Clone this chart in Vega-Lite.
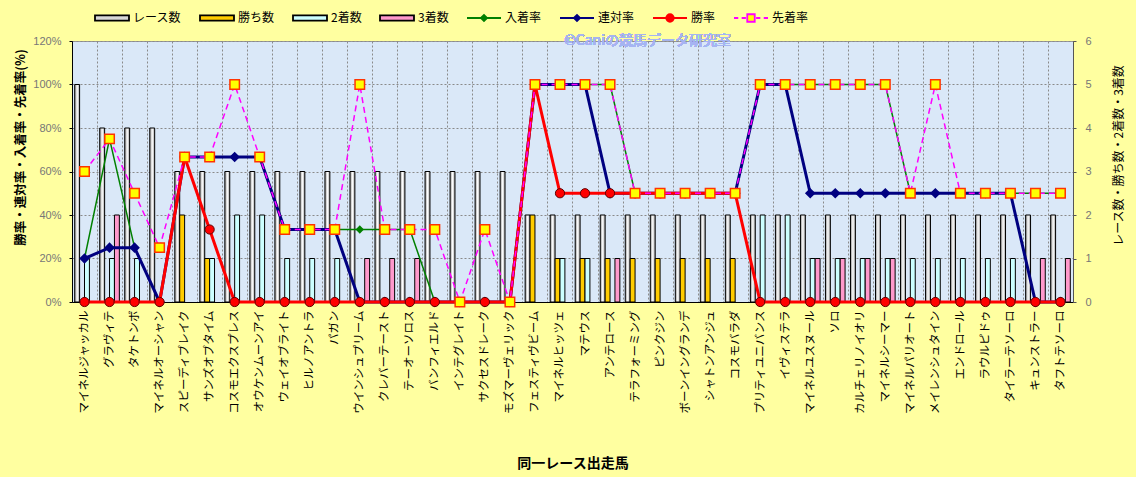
{
  "$schema": "https://vega.github.io/schema/vega-lite/v6.json",
  "width": 1001,
  "height": 261,
  "autosize": {"type": "none"},
  "padding": {"left": 72, "top": 41, "right": 63, "bottom": 175},
  "background": "#FFFFA0",
  "config": {
    "font": "Noto Sans CJK JP",
    "view": {"fill": "#DAE8F8", "stroke": "#999999"},
    "legend": {
      "orient": "none",
      "legendX": 22,
      "legendY": -41,
      "direction": "horizontal",
      "columns": 8,
      "gridAlign": "none",
      "padding": 0,
      "columnPadding": 14,
      "labelOffset": 3,
      "labelFontSize": 12,
      "labelColor": "#000000",
      "labelLimit": 100,
      "symbolSize": 1156,
      "symbolOpacity": 1,
      "symbolStrokeWidth": 1.8
    }
  },
  "data": {
    "values": [
      {"h": "マイネルジャッカル", "レース数": 5, "勝ち数": 0, "2着数": 1, "3着数": 0, "入着率": 0.2, "連対率": 0.2, "勝率": 0, "先着率": 0.6},
      {"h": "グラヴィテ", "レース数": 4, "勝ち数": 0, "2着数": 1, "3着数": 2, "入着率": 0.75, "連対率": 0.25, "勝率": 0, "先着率": 0.75},
      {"h": "タケトンボ", "レース数": 4, "勝ち数": 0, "2着数": 1, "3着数": 0, "入着率": 0.25, "連対率": 0.25, "勝率": 0, "先着率": 0.5},
      {"h": "マイネルオーシャン", "レース数": 4, "勝ち数": 0, "2着数": 0, "3着数": 0, "入着率": 0, "連対率": 0, "勝率": 0, "先着率": 0.25},
      {"h": "スピーディブレイク", "レース数": 3, "勝ち数": 2, "2着数": 0, "3着数": 0, "入着率": 0.6667, "連対率": 0.6667, "勝率": 0.6667, "先着率": 0.6667},
      {"h": "サンズオブタイム", "レース数": 3, "勝ち数": 1, "2着数": 1, "3着数": 0, "入着率": 0.6667, "連対率": 0.6667, "勝率": 0.3333, "先着率": 0.6667},
      {"h": "コスモエクスプレス", "レース数": 3, "勝ち数": 0, "2着数": 2, "3着数": 0, "入着率": 0.6667, "連対率": 0.6667, "勝率": 0, "先着率": 1},
      {"h": "オウケンムーンアイ", "レース数": 3, "勝ち数": 0, "2着数": 2, "3着数": 0, "入着率": 0.6667, "連対率": 0.6667, "勝率": 0, "先着率": 0.6667},
      {"h": "ウェイオブライト", "レース数": 3, "勝ち数": 0, "2着数": 1, "3着数": 0, "入着率": 0.3333, "連対率": 0.3333, "勝率": 0, "先着率": 0.3333},
      {"h": "ヒルノアントラ", "レース数": 3, "勝ち数": 0, "2着数": 1, "3着数": 0, "入着率": 0.3333, "連対率": 0.3333, "勝率": 0, "先着率": 0.3333},
      {"h": "パガン", "レース数": 3, "勝ち数": 0, "2着数": 1, "3着数": 0, "入着率": 0.3333, "連対率": 0.3333, "勝率": 0, "先着率": 0.3333},
      {"h": "ウインシュプリーム", "レース数": 3, "勝ち数": 0, "2着数": 0, "3着数": 1, "入着率": 0.3333, "連対率": 0, "勝率": 0, "先着率": 1},
      {"h": "クレバーテースト", "レース数": 3, "勝ち数": 0, "2着数": 0, "3着数": 1, "入着率": 0.3333, "連対率": 0, "勝率": 0, "先着率": 0.3333},
      {"h": "テーオーソロス", "レース数": 3, "勝ち数": 0, "2着数": 0, "3着数": 1, "入着率": 0.3333, "連対率": 0, "勝率": 0, "先着率": 0.3333},
      {"h": "バンフィエルド", "レース数": 3, "勝ち数": 0, "2着数": 0, "3着数": 0, "入着率": 0, "連対率": 0, "勝率": 0, "先着率": 0.3333},
      {"h": "インテグレイト", "レース数": 3, "勝ち数": 0, "2着数": 0, "3着数": 0, "入着率": 0, "連対率": 0, "勝率": 0, "先着率": 0},
      {"h": "サクセスドレーク", "レース数": 3, "勝ち数": 0, "2着数": 0, "3着数": 0, "入着率": 0, "連対率": 0, "勝率": 0, "先着率": 0.3333},
      {"h": "モズマーヴェリック", "レース数": 3, "勝ち数": 0, "2着数": 0, "3着数": 0, "入着率": 0, "連対率": 0, "勝率": 0, "先着率": 0},
      {"h": "フェスティヴビーム", "レース数": 2, "勝ち数": 2, "2着数": 0, "3着数": 0, "入着率": 1, "連対率": 1, "勝率": 1, "先着率": 1},
      {"h": "マイネルヒッツェ", "レース数": 2, "勝ち数": 1, "2着数": 1, "3着数": 0, "入着率": 1, "連対率": 1, "勝率": 0.5, "先着率": 1},
      {"h": "マテウス", "レース数": 2, "勝ち数": 1, "2着数": 1, "3着数": 0, "入着率": 1, "連対率": 1, "勝率": 0.5, "先着率": 1},
      {"h": "アンテロース", "レース数": 2, "勝ち数": 1, "2着数": 0, "3着数": 1, "入着率": 1, "連対率": 0.5, "勝率": 0.5, "先着率": 1},
      {"h": "テラフォーミング", "レース数": 2, "勝ち数": 1, "2着数": 0, "3着数": 0, "入着率": 0.5, "連対率": 0.5, "勝率": 0.5, "先着率": 0.5},
      {"h": "ピンクジン", "レース数": 2, "勝ち数": 1, "2着数": 0, "3着数": 0, "入着率": 0.5, "連対率": 0.5, "勝率": 0.5, "先着率": 0.5},
      {"h": "ボーンイングランデ", "レース数": 2, "勝ち数": 1, "2着数": 0, "3着数": 0, "入着率": 0.5, "連対率": 0.5, "勝率": 0.5, "先着率": 0.5},
      {"h": "シャトンアンジュ", "レース数": 2, "勝ち数": 1, "2着数": 0, "3着数": 0, "入着率": 0.5, "連対率": 0.5, "勝率": 0.5, "先着率": 0.5},
      {"h": "コスモバラダ", "レース数": 2, "勝ち数": 1, "2着数": 0, "3着数": 0, "入着率": 0.5, "連対率": 0.5, "勝率": 0.5, "先着率": 0.5},
      {"h": "プリティユニバンス", "レース数": 2, "勝ち数": 0, "2着数": 2, "3着数": 0, "入着率": 1, "連対率": 1, "勝率": 0, "先着率": 1},
      {"h": "イヴィステラ", "レース数": 2, "勝ち数": 0, "2着数": 2, "3着数": 0, "入着率": 1, "連対率": 1, "勝率": 0, "先着率": 1},
      {"h": "マイネルユスヌール", "レース数": 2, "勝ち数": 0, "2着数": 1, "3着数": 1, "入着率": 1, "連対率": 0.5, "勝率": 0, "先着率": 1},
      {"h": "ソロ", "レース数": 2, "勝ち数": 0, "2着数": 1, "3着数": 1, "入着率": 1, "連対率": 0.5, "勝率": 0, "先着率": 1},
      {"h": "カルチェリノイオリ", "レース数": 2, "勝ち数": 0, "2着数": 1, "3着数": 1, "入着率": 1, "連対率": 0.5, "勝率": 0, "先着率": 1},
      {"h": "マイネルシーマー", "レース数": 2, "勝ち数": 0, "2着数": 1, "3着数": 1, "入着率": 1, "連対率": 0.5, "勝率": 0, "先着率": 1},
      {"h": "マイネルパリオート", "レース数": 2, "勝ち数": 0, "2着数": 1, "3着数": 0, "入着率": 0.5, "連対率": 0.5, "勝率": 0, "先着率": 0.5},
      {"h": "メイレンシュタイン", "レース数": 2, "勝ち数": 0, "2着数": 1, "3着数": 0, "入着率": 0.5, "連対率": 0.5, "勝率": 0, "先着率": 1},
      {"h": "エンドロール", "レース数": 2, "勝ち数": 0, "2着数": 1, "3着数": 0, "入着率": 0.5, "連対率": 0.5, "勝率": 0, "先着率": 0.5},
      {"h": "ラウルピドゥ", "レース数": 2, "勝ち数": 0, "2着数": 1, "3着数": 0, "入着率": 0.5, "連対率": 0.5, "勝率": 0, "先着率": 0.5},
      {"h": "タイラーテソーロ", "レース数": 2, "勝ち数": 0, "2着数": 1, "3着数": 0, "入着率": 0.5, "連対率": 0.5, "勝率": 0, "先着率": 0.5},
      {"h": "キュンストラー", "レース数": 2, "勝ち数": 0, "2着数": 0, "3着数": 1, "入着率": 0.5, "連対率": 0, "勝率": 0, "先着率": 0.5},
      {"h": "タフトテソーロ", "レース数": 2, "勝ち数": 0, "2着数": 0, "3着数": 1, "入着率": 0.5, "連対率": 0, "勝率": 0, "先着率": 0.5}
    ]
  },
  "encoding": {
    "x": {
      "field": "h",
      "type": "nominal",
      "sort": null,
      "scale": {"paddingInner": 0, "paddingOuter": 0},
      "axis": {
        "title": "同一レース出走馬",
        "titleFontSize": 14,
        "titleFontWeight": "bold",
        "titleColor": "#000000",
        "titleY": 161,
        "titleBaseline": "middle",
        "labelAngle": -90,
        "labelFontSize": 11.5,
        "labelColor": "#000000",
        "labelPadding": 8,
        "labelLimit": 200,
        "ticks": false,
        "domainColor": "#000000",
        "grid": true,
        "tickBand": "extent",
        "gridColor": "#8A8A8A",
        "gridDash": [2, 2],
        "gridWidth": 1
      }
    }
  },
  "layer": [
    {
      "transform": [
        {"fold": ["レース数", "勝ち数", "2着数", "3着数"], "as": ["key", "count"]},
        {"filter": "datum.count > 0"}
      ],
      "mark": {"type": "bar", "stroke": "#000000", "strokeWidth": 1},
      "encoding": {
        "xOffset": {
          "field": "key",
          "type": "nominal",
          "sort": ["レース数", "勝ち数", "2着数", "3着数"],
          "scale": {"paddingInner": 0, "paddingOuter": 0.55}
        },
        "y": {
          "field": "count",
          "type": "quantitative",
          "scale": {"domain": [0, 6], "nice": false},
          "axis": {
            "orient": "right",
            "values": [0, 1, 2, 3, 4, 5, 6],
            "grid": false,
            "domainColor": "#555555",
            "tickColor": "#555555",
            "tickSize": 3,
            "labelPadding": 9,
            "labelColor": "#777777",
            "labelFont": "Liberation Sans",
            "labelFontSize": 11,
            "title": "レース数・勝ち数・2着数・3着数",
            "titleFontSize": 12,
            "titleFontWeight": "normal",
            "titleColor": "#000000",
            "titleAngle": 270,
            "titleX": 45,
            "titleY": 114,
            "titleAlign": "center",
            "titleBaseline": "middle"
          }
        },
        "fill": {
          "condition": {
            "test": "datum.key === 'レース数'",
            "value": {
              "gradient": "linear",
              "x1": 0, "x2": 1, "y1": 0, "y2": 0,
              "stops": [
                {"offset": 0, "color": "#8C8C8C"},
                {"offset": 0.5, "color": "#FFFFFF"},
                {"offset": 1, "color": "#A0A0A0"}
              ]
            }
          },
          "field": "key",
          "type": "nominal",
          "scale": {
            "domain": ["レース数", "勝ち数", "2着数", "3着数"],
            "range": ["#D8D8D8", "#FFCC00", "#CCFFFF", "#FF99CC"]
          },
          "legend": null
        }
      }
    },
    {
      "transform": [
        {"fold": ["入着率", "連対率", "勝率", "先着率"], "as": ["rkey", "rate"]}
      ],
      "encoding": {
        "y": {
          "field": "rate",
          "type": "quantitative",
          "scale": {"domain": [0, 1.2], "nice": false},
          "axis": {
            "orient": "left",
            "values": [0, 0.2, 0.4, 0.6, 0.8, 1, 1.2],
            "format": ".0%",
            "grid": true,
            "gridColor": "#8A8A8A",
            "gridDash": [2, 2],
            "gridWidth": 1,
            "domainColor": "#000000",
            "tickColor": "#000000",
            "tickSize": 3,
            "labelPadding": 8,
            "labelColor": "#777777",
            "labelFont": "Liberation Sans",
            "labelFontSize": 11,
            "title": "勝率・連対率・入着率・先着率(%)",
            "titleFontSize": 12.5,
            "titleFontWeight": "bold",
            "titleColor": "#000000",
            "titleAngle": 270,
            "titleX": -52,
            "titleY": 106,
            "titleAlign": "center",
            "titleBaseline": "middle"
          }
        }
      },
      "layer": [
        {
          "mark": {"type": "text", "text": "©Caniの競馬データ研究室", "fontSize": 14, "color": "#A6B4F2", "opacity": 0.95, "baseline": "middle", "align": "center"},
          "encoding": {
            "x": {"datum": "ピンクジン", "bandPosition": 0, "title": "同一レース出走馬"},
            "y": {"datum": 1.2, "type": "quantitative", "title": "勝率・連対率・入着率・先着率(%)"}
          }
        },
        {
          "transform": [{"filter": "datum.rkey === '入着率'"}],
          "mark": {"type": "line", "color": "#008000", "strokeWidth": 1.5,
            "point": {"shape": "diamond", "filled": true, "fill": "#008000", "stroke": "#008000", "size": 30}}
        },
        {
          "transform": [{"filter": "datum.rkey === '連対率'"}],
          "mark": {"type": "line", "color": "#000080", "strokeWidth": 3,
            "point": {"shape": "diamond", "filled": true, "fill": "#000080", "stroke": "#000080", "size": 60}}
        },
        {
          "transform": [{"filter": "datum.rkey === '勝率'"}],
          "mark": {"type": "line", "color": "#FF0000", "strokeWidth": 3,
            "point": {"shape": "circle", "filled": true, "fill": "#FF0000", "stroke": "#600000", "strokeWidth": 1, "size": 85}}
        },
        {
          "transform": [{"filter": "datum.rkey === '先着率'"}],
          "mark": {"type": "line", "color": "#FF00FF", "strokeWidth": 1.5, "strokeDash": [6, 4],
            "point": {"shape": "square", "filled": true, "fill": "#FFFF00", "stroke": "#FF3300", "strokeWidth": 1.5, "size": 90, "strokeDash": [1, 0]}}
        },
        {
          "mark": {"type": "point", "filled": true, "opacity": 0, "strokeWidth": 2},
          "encoding": {
            "color": {
              "field": "rkey",
              "type": "nominal",
              "title": null,
              "scale": {
                "domain": ["レース数", "勝ち数", "2着数", "3着数", "入着率", "連対率", "勝率", "先着率"],
                "range": ["#D8D8D8", "#FFCC00", "#CCFFFF", "#FF99CC", "#008000", "#000080", "#FF0000", "#FFFF00"]
              }
            },
            "shape": {
              "field": "rkey",
              "type": "nominal",
              "title": null,
              "scale": {
                "domain": ["レース数", "勝ち数", "2着数", "3着数", "入着率", "連対率", "勝率", "先着率"],
                "range": [
                  "M-1,-0.16H1V0.16H-1Z",
                  "M-1,-0.16H1V0.16H-1Z",
                  "M-1,-0.16H1V0.16H-1Z",
                  "M-1,-0.16H1V0.16H-1Z",
                  "M-1,0H1M-0.18,0L0,-0.18L0.18,0L0,0.18Z",
                  "M-1,0H1M-0.18,0L0,-0.18L0.18,0L0,0.18Z",
                  "M-1,0H1M0.22,0A0.22,0.22,0,1,1,-0.22,0A0.22,0.22,0,1,1,0.22,0Z",
                  "M-1,0H-0.75M-0.55,0H-0.3M0.3,0H0.55M0.75,0H1M-0.22,-0.22H0.22V0.22H-0.22Z"
                ]
              }
            },
            "stroke": {
              "field": "rkey",
              "type": "nominal",
              "title": null,
              "scale": {
                "domain": ["レース数", "勝ち数", "2着数", "3着数", "入着率", "連対率", "勝率", "先着率"],
                "range": ["#000000", "#000000", "#000000", "#000000", "#008000", "#000080", "#FF0000", "#FF00FF"]
              }
            }
          }
        }
      ]
    }
  ],
  "resolve": {"scale": {"y": "independent"}}
}
